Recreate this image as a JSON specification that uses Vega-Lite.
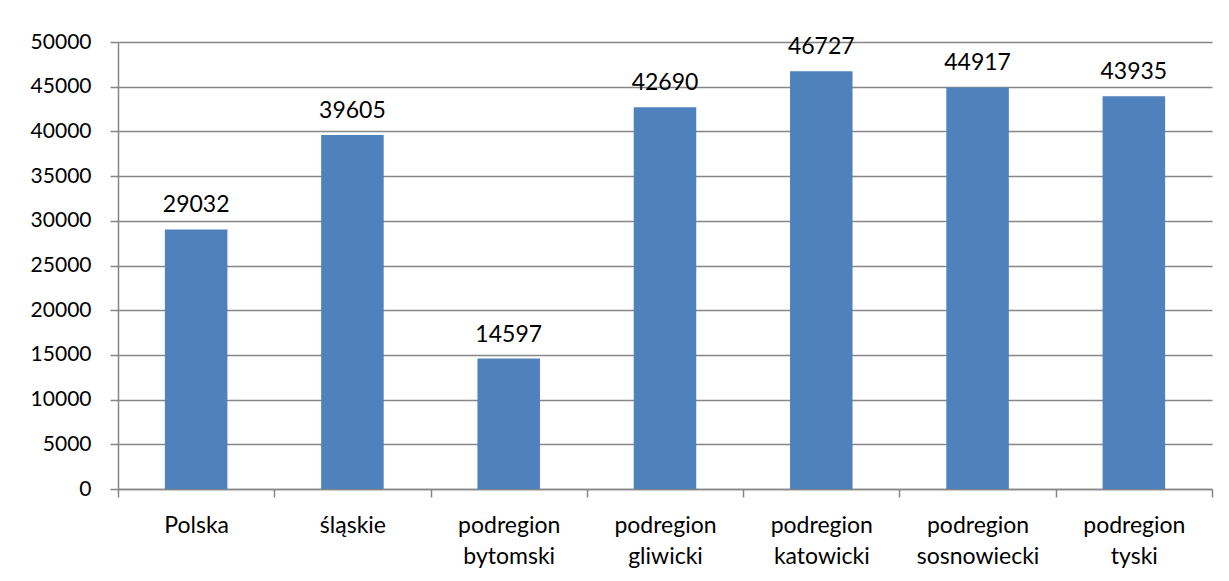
{
  "$schema": "https://vega.github.io/schema/vega-lite/v6.json",
  "width": 1094,
  "height": 447,
  "autosize": {"type": "none"},
  "padding": {"left": 118, "top": 42, "right": 17, "bottom": 92},
  "background": "white",
  "config": {
    "view": {"stroke": null},
    "font": "Lato",
    "axis": {"labelFont": "Lato", "labelColor": "#000000"}
  },
  "data": {
    "values": [
      {"region": "Polska", "value": 29032},
      {"region": "śląskie", "value": 39605},
      {"region": "podregion bytomski", "value": 14597},
      {"region": "podregion gliwicki", "value": 42690},
      {"region": "podregion katowicki", "value": 46727},
      {"region": "podregion sosnowiecki", "value": 44917},
      {"region": "podregion tyski", "value": 43935}
    ]
  },
  "encoding": {
    "x": {
      "field": "region",
      "type": "nominal",
      "sort": null,
      "scale": {"paddingInner": 0, "paddingOuter": 0},
      "axis": {
        "title": null,
        "labelAngle": 0,
        "labelExpr": "split(datum.label, ' ')",
        "labelFontSize": 23,
        "labelPadding": 17,
        "labelLineHeight": 31,
        "tickBand": "extent",
        "tickSize": 8,
        "tickColor": "#868686",
        "tickWidth": 1.5,
        "domainColor": "#868686",
        "domainWidth": 1.5,
        "grid": false
      }
    },
    "y": {
      "field": "value",
      "type": "quantitative",
      "scale": {"domain": [0, 50000]},
      "axis": {
        "title": null,
        "values": [0, 5000, 10000, 15000, 20000, 25000, 30000, 35000, 40000, 45000, 50000],
        "format": "d",
        "labelFontSize": 21,
        "labelPadding": 19,
        "tickSize": 8,
        "tickColor": "#868686",
        "tickWidth": 1.5,
        "domainColor": "#868686",
        "domainWidth": 1.5,
        "gridColor": "#868686",
        "gridWidth": 1.5
      }
    }
  },
  "layer": [
    {"mark": {"type": "bar", "color": "#4F81BD", "width": {"band": 0.4}}},
    {
      "mark": {"type": "text", "baseline": "alphabetic", "dy": -17, "fontSize": 23, "color": "#000000"},
      "encoding": {"text": {"field": "value", "type": "quantitative", "format": "d"}}
    }
  ]
}
